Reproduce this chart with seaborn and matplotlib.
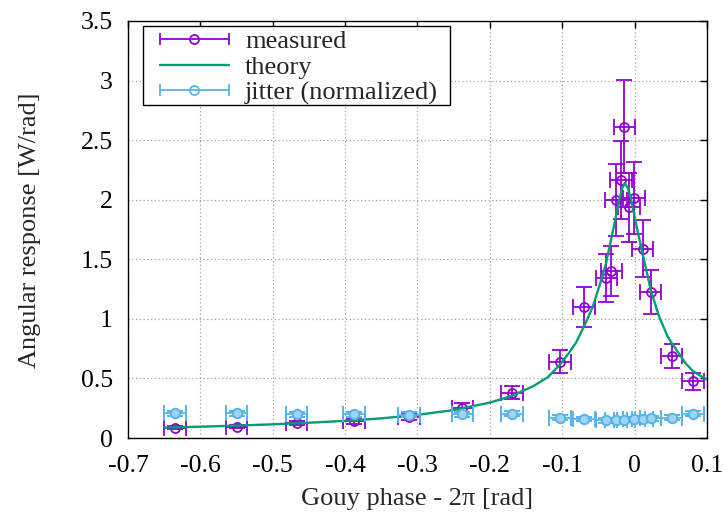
import numpy as np
import pandas as pd
import seaborn as sns
import matplotlib
matplotlib.use("Agg")
import matplotlib.pyplot as plt
from matplotlib.lines import Line2D
from matplotlib.patches import Rectangle
from matplotlib.legend_handler import HandlerLine2D, HandlerTuple

# ---- data -------------------------------------------------------------
meas_x = [-0.635, -0.550, -0.467, -0.388, -0.312, -0.238, -0.169, -0.103,
          -0.070, -0.039, -0.032, -0.026, -0.019, -0.014, -0.008, -0.001,
          0.011, 0.022, 0.051, 0.081]
meas_y = [0.086, 0.095, 0.123, 0.142, 0.179, 0.254, 0.381, 0.639,
          1.100, 1.343, 1.399, 1.999, 2.167, 2.613, 1.937, 2.016,
          1.589, 1.223, 0.689, 0.477]
meas_yerr = [0.013, 0.014, 0.018, 0.021, 0.027, 0.038, 0.057, 0.096,
             0.165, 0.201, 0.210, 0.300, 0.325, 0.392, 0.291, 0.302,
             0.238, 0.183, 0.103, 0.072]
meas_xerr = [0.015] * len(meas_x)

jit_x = [-0.635, -0.550, -0.467, -0.388, -0.312, -0.238, -0.169, -0.103,
         -0.070, -0.039, -0.026, -0.014, -0.001, 0.011, 0.022, 0.051, 0.081]
jit_y = [0.207, 0.207, 0.198, 0.198, 0.195, 0.198, 0.204, 0.170,
         0.159, 0.147, 0.151, 0.155, 0.160, 0.162, 0.166, 0.170, 0.204]
jit_yerr = [0.02] * len(jit_x)
jit_xerr = [0.015] * len(jit_x)

theory_x = [-0.65, -0.60, -0.55, -0.50, -0.45, -0.40, -0.35, -0.30, -0.25,
            -0.20, -0.17, -0.14, -0.12, -0.104, -0.09, -0.081, -0.0673,
            -0.058, -0.049, -0.0397, -0.0306, -0.0214, -0.0175, -0.0135,
            -0.0095, -0.0052, 0.004, 0.0132, 0.0224, 0.0338, 0.045, 0.051,
            0.06, 0.07, 0.08, 0.09, 0.10]
theory_y = [0.086, 0.095, 0.104, 0.115, 0.128, 0.144, 0.165, 0.194, 0.235,
            0.297, 0.353, 0.435, 0.51, 0.61, 0.72, 0.80, 0.97,
            1.10, 1.27, 1.46, 1.72, 1.99, 2.09, 2.14,
            2.10, 2.01, 1.74, 1.49, 1.24, 1.02, 0.86, 0.80,
            0.72, 0.63, 0.565, 0.525, 0.49]

x_ticks = [-0.7, -0.6, -0.5, -0.4, -0.3, -0.2, -0.1, 0.0, 0.1]
x_ticklabels = ["-0.7", "-0.6", "-0.5", "-0.4", "-0.3", "-0.2", "-0.1", "0", "0.1"]
y_ticks = [0, 0.5, 1, 1.5, 2, 2.5, 3, 3.5]
y_ticklabels = ["0", "0.5", "1", "1.5", "2", "2.5", "3", "3.5"]

# ---- style ------------------------------------------------------------
sns.set_theme(style="white")
plt.rcParams["font.family"] = ["Liberation Serif", "DejaVu Serif"]
plt.rcParams["axes.unicode_minus"] = False

PURPLE = "#9400d3"
GREEN = "#009e73"
BLUE = "#56b4e9"
FS_TICK = 18.5
FS = 19

fig = plt.figure(figsize=(7.24, 5.21), dpi=100)
ax = fig.add_axes([0.1768, 0.1593, 0.7997, 0.8004])

# measured points
ax.errorbar(meas_x, meas_y, xerr=meas_xerr, yerr=meas_yerr, fmt="o",
            color=PURPLE, ms=6.5, mfc="none", mew=1.3, elinewidth=1.3,
            capsize=5.5, capthick=1.3, zorder=3)

# theory curve
theory = pd.DataFrame({"x": theory_x, "y": theory_y})
sns.lineplot(data=theory, x="x", y="y", ax=ax, color=GREEN, lw=1.7,
             legend=False, zorder=4)

# jitter points
ax.errorbar(jit_x, jit_y, xerr=jit_xerr, yerr=jit_yerr, fmt="o",
            color=BLUE, ms=6.8, mfc="#9fd5f2", mew=1.4, elinewidth=1.3,
            capsize=5.5, capthick=1.3, zorder=5)

ax.set_xlim(-0.7, 0.1)
ax.set_ylim(0, 3.5)
ax.set_xticks(x_ticks)
ax.set_xticklabels(x_ticklabels)
ax.set_yticks(y_ticks)
ax.set_yticklabels(y_ticklabels)
ax.tick_params(axis="both", direction="in", length=5, width=1,
               top=True, right=True, labelsize=FS_TICK, colors="black")
ax.tick_params(axis="x", pad=12)
ax.tick_params(axis="y", pad=11)
ax.grid(True, color="#a0a0a0", linestyle=(0, (1, 2)), linewidth=0.9)
for sp in ax.spines.values():
    sp.set_color("black")
    sp.set_linewidth(1.0)

ax.set_xlabel("Gouy phase - 2π [rad]", fontsize=FS)
ax.set_ylabel("Angular response [W/rad]", fontsize=FS)
ax.xaxis.set_label_coords(0.4998, -0.120)
ax.yaxis.set_label_coords(-0.150, 0.499)

# legend frame
ax.add_patch(Rectangle((0.0259, 0.7986), 0.530, 0.1894, transform=ax.transAxes,
                       facecolor="white", edgecolor="black", lw=1.0,
                       zorder=9, clip_on=False))

# legend with horizontal error-bar glyphs
m_bar = Line2D([], [], color=PURPLE, lw=1.3, marker="|", ms=8, mew=1.3)
m_pt = Line2D([], [], color=PURPLE, lw=0, marker="o", ms=6.5, mfc="none", mew=1.3)
t_line = Line2D([], [], color=GREEN, lw=1.7)
j_bar = Line2D([], [], color=BLUE, lw=1.3, marker="|", ms=8, mew=1.3)
j_pt = Line2D([], [], color=BLUE, lw=0, marker="o", ms=6.5, mfc="none", mew=1.3)
hmap = {
    m_bar: HandlerLine2D(numpoints=2, marker_pad=0),
    j_bar: HandlerLine2D(numpoints=2, marker_pad=0),
    m_pt: HandlerLine2D(numpoints=1),
    j_pt: HandlerLine2D(numpoints=1),
    tuple: HandlerTuple(ndivide=1),
}
leg = ax.legend([(m_bar, m_pt), t_line, (j_bar, j_pt)],
                ["measured", "theory", "jitter (normalized)"],
                handler_map=hmap, loc="upper left",
                bbox_to_anchor=(0.0508, 0.9855), borderaxespad=0,
                fontsize=FS, frameon=False, handlelength=2.61,
                handletextpad=0.606, labelspacing=0.085, borderpad=0.1)
leg.set_zorder(10)

fig.savefig("out.png", dpi=100)
